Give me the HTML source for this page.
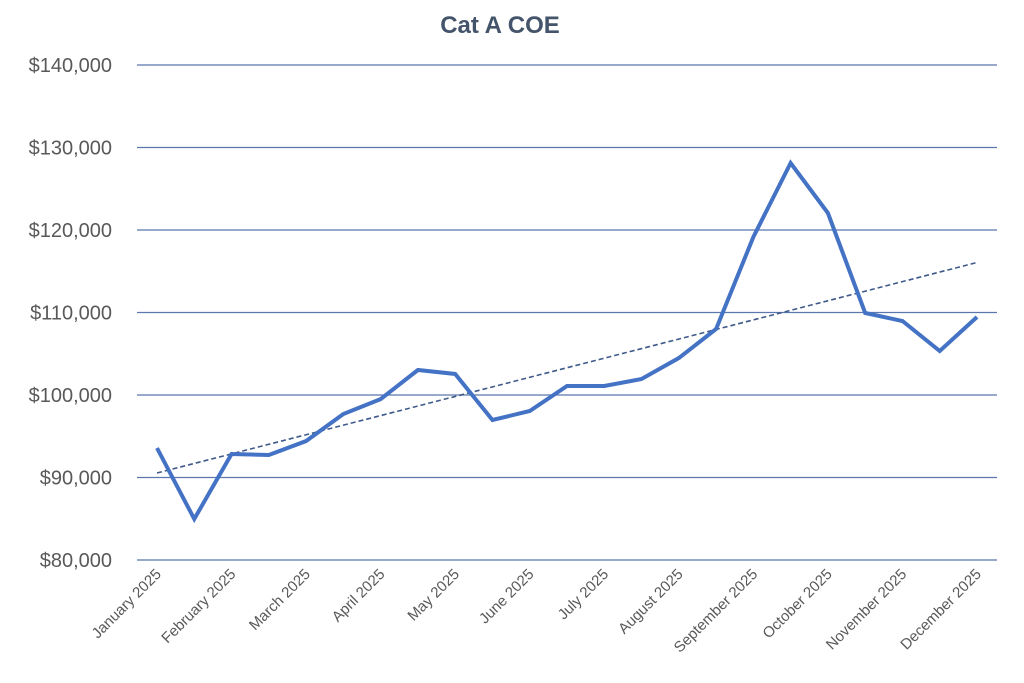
<!DOCTYPE html>
<html><head><meta charset="utf-8"><style>
body{margin:0;background:#fff;}
svg{display:block;font-family:"Liberation Sans",sans-serif;}
</style></head><body>
<svg id="chart" width="1024" height="683">
<text x="500" y="33" text-anchor="middle" font-size="24" font-weight="bold" fill="#44546a">Cat A COE</text>
<g id="grid"></g><g id="ylabels"></g><g id="xlabels"></g><g id="series"></g>
</svg>
<script>
const categories=["January 2025","","February 2025","","March 2025","","April 2025","","May 2025","","June 2025","","July 2025","","August 2025","","September 2025","","October 2025","","November 2025","","December 2025"];
const values=[93576,84970,92850,92730,94420,97700,99500,103030,102550,96970,98060,101090,101090,101940,104480,108000,119150,128120,122060,109940,108970,105330,109450];
const yTicks=[80000,90000,100000,110000,120000,130000,140000];
const yTickLabels=["$80,000","$90,000","$100,000","$110,000","$120,000","$130,000","$140,000"];
const NS="http://www.w3.org/2000/svg";
const x0=157,x1=977,left=137,right=997;
const xs=i=>x0+(x1-x0)*i/(categories.length-1);
const ys=v=>560-(v-80000)/60000*495;
function mk(t,a,p){const e=document.createElementNS(NS,t);for(const k in a)e.setAttribute(k,a[k]);p.appendChild(e);return e;}
const grid=document.getElementById('grid'),yl=document.getElementById('ylabels'),xl=document.getElementById('xlabels'),sr=document.getElementById('series');
yTicks.forEach((v,i)=>{
 const l=mk('line',{x1:left,x2:right,y1:ys(v),y2:ys(v),stroke:'#5a78ad','stroke-width':1.3},grid);
 
 
 const t=mk('text',{x:112,y:ys(v)+7,'text-anchor':'end','font-size':20,fill:'#595959'},yl);
 t.textContent=yTickLabels[i];
 
 
});
categories.forEach((c,i)=>{
 if(!c)return;
 const x=xs(i)+5,y=575;
 const t=mk('text',{x:x,y:y,'text-anchor':'end','font-size':15,fill:'#595959',transform:`rotate(-45 ${x} ${y})`},xl);
 t.textContent=c;
 
 
});
const n=values.length;let sx=0,sy=0,sxy=0,sxx=0;
values.forEach((v,i)=>{sx+=i;sy+=v;sxy+=i*v;sxx+=i*i;});
const b=(n*sxy-sx*sy)/(n*sxx-sx*sx),a=(sy-b*sx)/n;
const tl=mk('line',{x1:xs(0),y1:ys(a),x2:xs(n-1),y2:ys(a+b*(n-1)),stroke:'#3f5a8a','stroke-width':1.6,'stroke-dasharray':'5,3'},sr);


const pl=mk('polyline',{points:values.map((v,i)=>xs(i)+','+ys(v)).join(' '),fill:'none',stroke:'#4472c4','stroke-width':4,'stroke-linejoin':'miter'},sr);


</script>
</body></html>
